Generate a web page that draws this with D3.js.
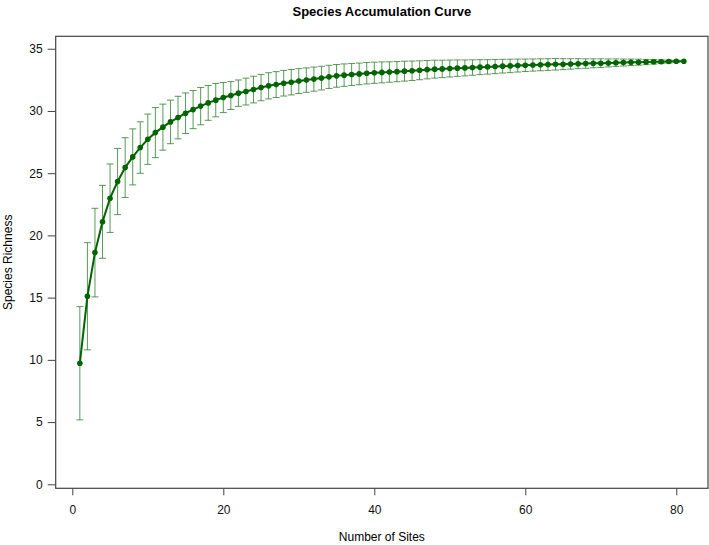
<!DOCTYPE html>
<html>
<head>
    <meta charset="utf-8">
    <title>Species Accumulation Curve</title>
    <script src="https://cdn.jsdelivr.net/npm/d3@7/dist/d3.min.js"></script>
    <style>
        body { margin: 0; background: #fff; }
        svg { display: block; font-family: "Liberation Sans", Arial, sans-serif; }
        .tick text { font-size: 12px; fill: #111; }
        .tick line { stroke: #444; }
    </style>
</head>
<body>
<svg id="chart" width="709" height="545"></svg>

<script>
    // species accumulation
    var sites = d3.range(1, 82);

    var richness = [
        9.73, 15.11, 18.62, 21.09, 22.99, 24.33, 25.45, 26.31, 27.06, 27.73,
        28.26, 28.70, 29.12, 29.47, 29.82, 30.11, 30.39, 30.65, 30.87, 31.08,
        31.24, 31.43, 31.56, 31.72, 31.88, 32.02, 32.12, 32.23, 32.31, 32.40,
        32.48, 32.56, 32.64, 32.74, 32.82, 32.88, 32.93, 32.98, 33.03, 33.07,
        33.10, 33.13, 33.16, 33.20, 33.23, 33.27, 33.32, 33.36, 33.38, 33.41,
        33.44, 33.46, 33.49, 33.52, 33.54, 33.57, 33.60, 33.62, 33.65, 33.67,
        33.69, 33.71, 33.73, 33.75, 33.76, 33.78, 33.80, 33.81, 33.83, 33.84,
        33.86, 33.88, 33.89, 33.91, 33.92, 33.93, 33.95, 33.96, 33.97, 33.99,
        34.00
    ];

    var sd = [
        4.55, 4.31, 3.56, 2.93, 2.75, 2.66, 2.40, 2.25, 2.07, 2.02,
        2.01, 1.85, 1.75, 1.71, 1.63, 1.53, 1.50, 1.40, 1.34, 1.21,
        1.12, 1.06, 1.08, 1.07, 1.06, 1.05, 1.04, 1.03, 1.02, 1.00,
        0.98, 0.97, 0.95, 0.93, 0.91, 0.90, 0.88, 0.87, 0.86, 0.85,
        0.84, 0.82, 0.81, 0.80, 0.78, 0.76, 0.74, 0.72, 0.70, 0.68,
        0.66, 0.64, 0.62, 0.60, 0.58, 0.57, 0.55, 0.54, 0.52, 0.50,
        0.49, 0.48, 0.47, 0.46, 0.44, 0.42, 0.40, 0.38, 0.36, 0.35,
        0.32, 0.30, 0.28, 0.26, 0.24, 0.21, 0.18, 0.15, 0.12, 0.08,
        0.00
    ];

    var xTicks = [0, 20, 40, 60, 80],
        yTicks = [0, 5, 10, 15, 20, 25, 30, 35];

    var data = sites.map(function (s, i) {
        return {site: s, mean: richness[i], sd: sd[i]};
    });

    var box = {left: 55.7, right: 708, top: 36.3, bottom: 488.3};

    var x = d3.scaleLinear().domain([-2.2, 84.2]).range([box.left, box.right]),
        y = d3.scaleLinear().domain([-0.32, 36.0]).range([box.bottom, box.top]);

    var svg = d3.select("#chart");

    // error bars
    var bars = svg.append("g")
        .attr("stroke", "#2f7f2f")
        .attr("stroke-opacity", 0.8)
        .attr("stroke-width", 1)
        .selectAll("g")
        .data(data.filter(function (d) { return d.sd > 0; }))
        .join("g");

    bars.append("line")
        .attr("x1", function (d) { return x(d.site); })
        .attr("x2", function (d) { return x(d.site); })
        .attr("y1", function (d) { return y(d.mean - d.sd); })
        .attr("y2", function (d) { return y(d.mean + d.sd); });

    [-1, 1].forEach(function (sign) {
        bars.append("line")
            .attr("x1", function (d) { return x(d.site) - 3.5; })
            .attr("x2", function (d) { return x(d.site) + 3.5; })
            .attr("y1", function (d) { return y(d.mean + sign * d.sd); })
            .attr("y2", function (d) { return y(d.mean + sign * d.sd); });
    });

    // mean curve
    var line = d3.line()
        .x(function (d) { return x(d.site); })
        .y(function (d) { return y(d.mean); });

    svg.append("path")
        .datum(data)
        .attr("fill", "none")
        .attr("stroke", "#006400")
        .attr("stroke-width", 2)
        .attr("d", line);

    svg.append("g")
        .selectAll("circle")
        .data(data)
        .join("circle")
        .attr("cx", function (d) { return x(d.site); })
        .attr("cy", function (d) { return y(d.mean); })
        .attr("r", 2.8)
        .attr("fill", "#006400");

    // axes
    var xAxis = svg.append("g")
        .attr("transform", "translate(0," + box.bottom + ")")
        .call(d3.axisBottom(x).tickValues(xTicks).tickSize(7).tickPadding(10).tickFormat(d3.format("d")));
    xAxis.select(".domain").remove();

    var yAxis = svg.append("g")
        .attr("transform", "translate(" + box.left + ",0)")
        .call(d3.axisLeft(y).tickValues(yTicks).tickSize(8).tickPadding(5).tickFormat(d3.format("d")));
    yAxis.select(".domain").remove();

    svg.append("rect")
        .attr("x", box.left)
        .attr("y", box.top)
        .attr("width", box.right - box.left)
        .attr("height", box.bottom - box.top)
        .attr("fill", "none")
        .attr("stroke", "#444")
        .attr("stroke-width", 1.2);

    // labels
    svg.append("text")
        .attr("x", (box.left + box.right) / 2)
        .attr("y", 16)
        .attr("text-anchor", "middle")
        .style("font-size", "13px")
        .style("font-weight", "bold")
        .text("Species Accumulation Curve");

    svg.append("text")
        .attr("x", (box.left + box.right) / 2)
        .attr("y", 541)
        .attr("text-anchor", "middle")
        .style("font-size", "12px")
        .text("Number of Sites");

    svg.append("text")
        .attr("transform", "translate(12," + (box.top + box.bottom) / 2 + ") rotate(-90)")
        .attr("text-anchor", "middle")
        .style("font-size", "12px")
        .text("Species Richness");
</script>
</body>
</html>
